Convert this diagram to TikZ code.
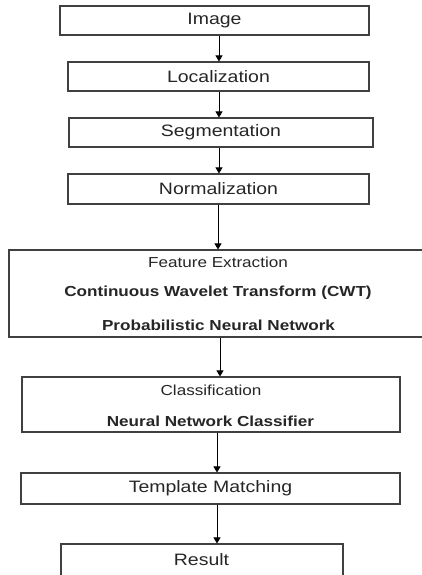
\documentclass[tikz,border=0pt]{standalone}
\usepackage{fontspec}
\setmainfont[FakeStretch=1.18]{Liberation Sans}
\usetikzlibrary{arrows.meta}
\definecolor{edge}{HTML}{404040}
\definecolor{ink}{HTML}{262626}
\tikzset{
  stage/.style={draw=edge, line width=1.1pt, rectangle, inner sep=0pt,
    text=ink, font=\fontsize{16.5}{18}\selectfont},
  caption/.style={text=ink, inner sep=0pt, font=\fontsize{14.5}{16}\selectfont},
  boldline/.style={caption, font=\fontsize{14.5}{16}\selectfont\bfseries},
  flow/.style={draw=black, line width=0.9pt, -{Triangle[width=7pt,length=6pt]}}
}
\begin{document}
\begin{tikzpicture}[x=1pt, y=-1pt]
  \useasboundingbox (0,0) rectangle (422,575);
  \fill[white] (0,0) rectangle (422,575);
  \clip (0,0) rectangle (422,575);

  % processing stages
  \node[stage, minimum width=309pt, minimum height=29pt] (img) at (214.5,20.5) {Image};
  \node[stage, minimum width=301pt, minimum height=29pt] (loc) at (218.5,76.5) {Localization};
  \node[stage, minimum width=304pt, minimum height=29pt] (seg) at (221,132.5) {Segmentation};
  \node[stage, minimum width=301pt, minimum height=30pt] (nrm) at (218.5,189) {Normalization};
  \node[stage, minimum width=416pt, minimum height=87pt] (fe) at (217,293.5) {};
  \node[stage, minimum width=378pt, minimum height=55pt] (cls) at (211,404.5) {};
  \node[stage, minimum width=379pt, minimum height=31pt] (tm) at (210.5,488.5) {Template Matching};
  \node[stage, minimum width=282pt, minimum height=34pt] (res) at (202,561) {};

  % labels inside the larger boxes
  \node[caption] (feT) at (218,262) {Feature Extraction};
  \node[boldline] (feA) at (218,293) {Continuous Wavelet Transform (CWT)};
  \node[boldline] (feB) at (218.5,325) {Probabilistic Neural Network};
  \node[caption] (clT) at (211,390) {Classification};
  \node[boldline] (clA) at (210.5,421) {Neural Network Classifier};
  \node[stage, draw=none, anchor=center] (resT) at (201.5,560) {Result};

  % arrow columns
  \coordinate (c1) at (219,0);
  \coordinate (c2) at (218,0);
  \coordinate (c3) at (220,0);
  \coordinate (c4) at (217,0);

  \draw[flow] (img.south -| c1) -- (loc.north -| c1);
  \draw[flow] (loc.south -| c1) -- (seg.north -| c1);
  \draw[flow] (seg.south -| c1) -- (nrm.north -| c1);
  \draw[flow] (nrm.south -| c2) -- (fe.north -| c2);
  \draw[flow] (fe.south -| c3) -- (cls.north -| c3);
  \draw[flow] (cls.south -| c4) -- (tm.north -| c4);
  \draw[flow] (tm.south -| c4) -- (res.north -| c4);
\end{tikzpicture}
\end{document}
